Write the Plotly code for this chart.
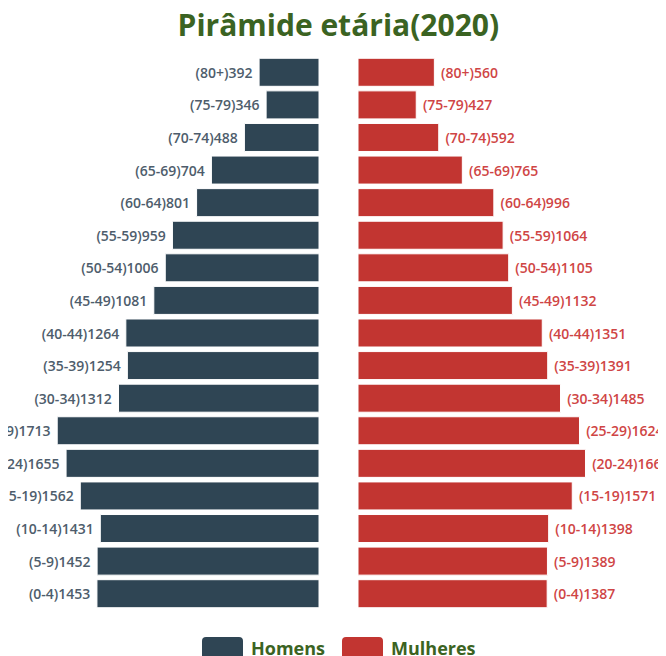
import plotly.graph_objects as go

# Dados da pirâmide etária (2020)
faixas = ['(0-4)', '(5-9)', '(10-14)', '(15-19)', '(20-24)', '(25-29)', '(30-34)', '(35-39)',
          '(40-44)', '(45-49)', '(50-54)', '(55-59)', '(60-64)', '(65-69)', '(70-74)', '(75-79)', '(80+)']
homens = [1453, 1452, 1431, 1562, 1655, 1713, 1312, 1254, 1264, 1081, 1006, 959, 801, 704, 488, 346, 392]
mulheres = [1387, 1389, 1398, 1571, 1668, 1624, 1485, 1391, 1351, 1132, 1105, 1064, 996, 765, 592, 427, 560]
series = ['Homens', 'Mulheres']

cor_homens = '#2f4554'
cor_mulheres = '#c23531'
verde = '#3b6322'

W, H = 666, 656
T, B = 48, 54  # margens (px)

fig = go.Figure()

fig.add_trace(go.Bar(
    y=faixas, x=homens, orientation='h', name=series[0],
    marker=dict(color=cor_homens, line=dict(color='white', width=1)),
    text=[f"{f}{v} " for f, v in zip(faixas, homens)],
    textposition='outside', cliponaxis=False, constraintext='none',
    textfont=dict(family='Open Sans', size=14, color='#4e5d6c', weight=600),
    xaxis='x', yaxis='y', hoverinfo='skip', showlegend=False,
))

fig.add_trace(go.Bar(
    y=faixas, x=mulheres, orientation='h', name=series[1],
    marker=dict(color=cor_mulheres, line=dict(color='white', width=1)),
    text=[f" {f}{v}" for f, v in zip(faixas, mulheres)],
    textposition='outside', cliponaxis=False, constraintext='none',
    textfont=dict(family='Open Sans', size=14, color='#cf4545', weight=600),
    xaxis='x2', yaxis='y2', hoverinfo='skip', showlegend=False,
))


# legenda desenhada à mão (ícones retangulares arredondados, como no original)
def px_x(x):
    return x / W


def px_y(y):
    return (H - B - y) / (H - T - B)


def rounded_rect(x0, y0, x1, y1, r=4):
    X = lambda v: f"{px_x(v):.5f}"
    Y = lambda v: f"{px_y(v):.5f}"
    return (f"M{X(x0 + r)},{Y(y0)} L{X(x1 - r)},{Y(y0)} Q{X(x1)},{Y(y0)} {X(x1)},{Y(y0 + r)} "
            f"L{X(x1)},{Y(y1 - r)} Q{X(x1)},{Y(y1)} {X(x1 - r)},{Y(y1)} "
            f"L{X(x0 + r)},{Y(y1)} Q{X(x0)},{Y(y1)} {X(x0)},{Y(y1 - r)} "
            f"L{X(x0)},{Y(y0 + r)} Q{X(x0)},{Y(y0)} {X(x0 + r)},{Y(y0)} Z")


legenda = [(series[0], cor_homens, 194), (series[1], cor_mulheres, 334)]
for nome, cor, x0 in legenda:
    fig.add_shape(type='path', xref='paper', yref='paper',
                  path=rounded_rect(x0, 629, x0 + 41, 652),
                  fillcolor=cor, line=dict(width=0))
    fig.add_annotation(text=nome, xref='paper', yref='paper',
                       x=px_x(x0 + 47), y=px_y(640), xanchor='left', yanchor='middle',
                       showarrow=False,
                       font=dict(family='Open Sans', size=18, color=verde, weight='bold'))

fig.update_layout(
    width=W, height=H,
    margin=dict(l=0, r=0, t=T, b=B),
    paper_bgcolor='white', plot_bgcolor='white',
    bargap=0.14,
    title=dict(text='Pirâmide etária(2020)', x=0.496, xanchor='center', y=0.974, yanchor='middle',
               font=dict(family='Open Sans', size=30, color=verde, weight='bold')),
    xaxis=dict(domain=[0, 311 / W], range=[2035, 0], visible=False),
    xaxis2=dict(domain=[350 / W, 1], range=[0, 2317], visible=False),
    yaxis=dict(anchor='x', visible=False, categoryorder='array', categoryarray=faixas),
    yaxis2=dict(anchor='x2', matches='y', visible=False),
    showlegend=False,
)

fig.write_html("out.html")
